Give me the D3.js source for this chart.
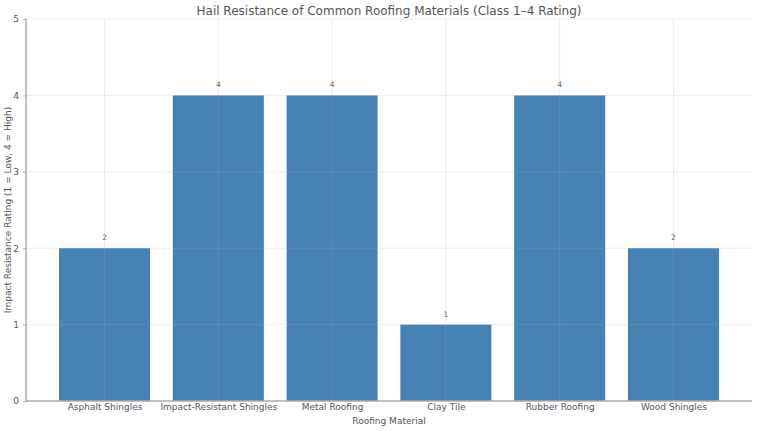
<!DOCTYPE html>
<html><head><meta charset="utf-8">
<script src="https://cdn.jsdelivr.net/npm/d3@7"></script>
<style>body{margin:0;background:#fff}svg{display:block}text{font-family:"DejaVu Sans",sans-serif}</style>
</head><body><svg id="c" width="758" height="431"></svg>
<script>
const categories = ["Asphalt Shingles","Impact-Resistant Shingles","Metal Roofing","Clay Tile","Rubber Roofing","Wood Shingles"];
const ratings = [2,4,4,1,4,2];
const yTicks = [0,1,2,3,4,5];
const title = "Hail Resistance of Common Roofing Materials (Class 1–4 Rating)";
const xLabel = "Roofing Material";
const yLabel = "Impact Resistance Rating (1 = Low, 4 = High)";

const svg = d3.select("#c");
const L = 26, R = 752, T = 19, B = 401;
const x = d3.scaleLinear().domain([-0.69, categories.length - 1 + 0.69]).range([L, R]);
const y = d3.scaleLinear().domain([0, 5]).range([B, T]);
const bw = x(0.4) - x(-0.4);
const txt = "#555";

// bars
svg.append("g").selectAll("rect").data(ratings).join("rect")
  .attr("x", (d,i) => x(i) - bw/2).attr("width", bw)
  .attr("y", d => y(d)).attr("height", d => y(0) - y(d))
  .attr("fill", "#4682b4");

// grid on top
const grid = svg.append("g").attr("stroke", "#b0b0b0").attr("stroke-opacity", 0.3).attr("stroke-width", 0.8);
grid.selectAll("line.h").data(yTicks.slice(1)).join("line")
  .attr("x1", L).attr("x2", R).attr("y1", d => y(d)).attr("y2", d => y(d));
grid.selectAll("line.v").data(categories).join("line")
  .attr("x1", (d,i) => x(i)).attr("x2", (d,i) => x(i)).attr("y1", T).attr("y2", B);

// value labels
svg.append("g").selectAll("text").data(ratings).join("text")
  .attr("x", (d,i) => x(i)).attr("y", d => y(d) - 8)
  .attr("text-anchor", "middle").attr("font-size", 7.5).attr("fill", "#666")
  .text(d => d);

// axes
const yAxis = d3.axisLeft(y).tickValues(yTicks).tickSize(3).tickPadding(4).tickFormat(d3.format("d"));
const yg = svg.append("g").attr("transform", `translate(${L},0)`).call(yAxis);
yg.select(".domain").remove();
yg.selectAll(".tick line").attr("stroke", "#aaa");
yg.selectAll(".tick text").attr("font-size", 9).attr("fill", txt).attr("font-family", "DejaVu Sans");

const xAxis = d3.axisBottom(x).tickValues(categories.map((d,i)=>i)).tickSize(0).tickPadding(3).tickFormat(i => categories[i]);
const xg = svg.append("g").attr("transform", `translate(0,${B})`).call(xAxis);
xg.select(".domain").remove();
xg.selectAll(".tick text").attr("font-size", 9).attr("fill", txt).attr("font-family", "DejaVu Sans");

// spines
svg.append("line").attr("x1", L).attr("x2", L).attr("y1", T).attr("y2", B).attr("stroke", "#aaa").attr("stroke-width", 1.5);
svg.append("line").attr("x1", L).attr("x2", R).attr("y1", B).attr("y2", B).attr("stroke", "#aaa").attr("stroke-width", 1.5);

// titles
svg.append("text").attr("x", (L+R)/2).attr("y", 15).attr("text-anchor", "middle")
  .attr("font-size", 12).attr("fill", txt).text(title);
svg.append("text").attr("x", (L+R)/2).attr("y", 424).attr("text-anchor", "middle")
  .attr("font-size", 9).attr("fill", txt).text(xLabel);
svg.append("text").attr("transform", `translate(11,${(T+B)/2}) rotate(-90)`).attr("text-anchor", "middle")
  .attr("font-size", 9).attr("fill", txt).text(yLabel);
</script></body></html>
